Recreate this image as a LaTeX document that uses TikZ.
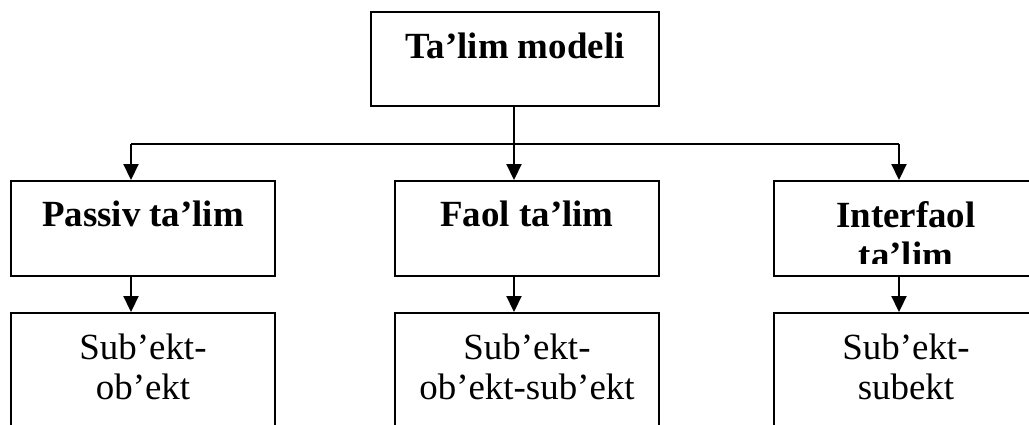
\documentclass[tikz,border=0pt]{standalone}
\usepackage{fontspec}
\setmainfont{Liberation Serif}
\usetikzlibrary{arrows.meta}
\tikzset{
  box/.style={draw, rectangle, line width=1.1pt, minimum width=5.28cm, minimum height=1.9cm, inner sep=0pt},
  txt/.style={align=center, inner sep=0pt, anchor=base, font=\fontsize{21pt}{23.2pt}\selectfont},
  btxt/.style={txt, font=\fontsize{21pt}{23.2pt}\selectfont\bfseries},
  arr/.style={line width=1.1pt, -{Triangle[length=0.32cm,width=0.3cm]}}
}
\begin{document}
\begin{tikzpicture}[x=0.02cm, y=-0.02cm]
        \clip (0,0) rectangle (1029,425);
        % boxes
        \node[box, minimum width=5.76cm, minimum height=1.88cm] (model) at (515,59) {};
        \node[box] (passiv) at (143,228.5) {};
        \node[box] (faol) at (527,228.5) {};
        \node[box] (interfaol) at (906,228.5) {};
        \node[box, minimum height=2.8cm] (sub1) at (143,383) {};
        \node[box, minimum height=2.8cm] (sub2) at (527,383) {};
        \node[box, minimum height=2.8cm] (sub3) at (906,383) {};

        % texts (base = last line)
        \node[btxt] (modelT) at (515,59) {Ta’lim modeli};
        \node[btxt] (passivT) at (143,227) {Passiv ta’lim};
        \node[btxt] (faolT) at (527,227) {Faol ta’lim};
        \begin{scope}
          \clip (774,181) rectangle (1040,264);
          \node[btxt] (interfaolT) at (906,268) {Interfaol\\ta’lim};
        \end{scope}
        \node[txt] (sub1T) at (143,400) {Sub’ekt-\\ob’ekt};
        \node[txt] (sub2T) at (527,400) {Sub’ekt-\\ob’ekt-sub’ekt};
        \node[txt] (sub3T) at (906,400) {Sub’ekt-\\subekt};

        % connectors
        \coordinate (hl) at (131,144);
        \coordinate (hm) at (514,144);
        \coordinate (hr) at (899,144);
        \draw[line width=1.1pt] (hl) -- (hr);
        \draw[line width=1.1pt] (model.south -| hm) -- (hm);
        \draw[arr] (hl) -- (hl |- passiv.north);
        \draw[arr] (hm) -- (hm |- faol.north);
        \draw[arr] (hr) -- (hr |- interfaol.north);
        \draw[arr] (hl |- passiv.south) -- (hl |- sub1.north);
        \draw[arr] (hm |- faol.south) -- (hm |- sub2.north);
        \draw[arr] (hr |- interfaol.south) -- (hr |- sub3.north);
\end{tikzpicture}
\end{document}
